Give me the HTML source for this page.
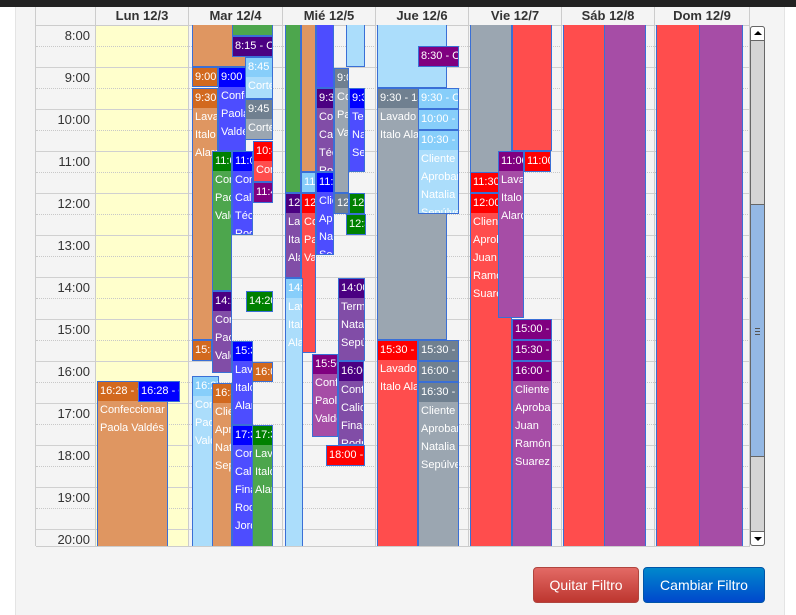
<!DOCTYPE html>
<html><head><meta charset="utf-8">
<style>
*{margin:0;padding:0;box-sizing:border-box}
html,body{width:796px;height:615px;overflow:hidden}
body{background:#fff;position:relative;font-family:"Liberation Sans",sans-serif}
.topbar{position:absolute;left:0;top:0;width:796px;height:7px;background:#222}
.panel{position:absolute;left:15px;top:7px;width:770px;height:608px;background:#f4f4f4;border-left:1px solid #e4e4e4;border-right:1px solid #e4e4e4}
.hdr{position:absolute;top:7px;height:19px;border-right:1px solid #ccc;border-bottom:1px solid #ccc;font-weight:bold;font-size:13px;color:#333;text-align:center;line-height:18px;background:#f4f4f4}
.vl{position:absolute;top:7px;width:1px;height:539px;background:#ccc}
.hl{position:absolute;left:36px;width:714px;height:1px;background:#d0d0d0}
.dl{position:absolute;left:36px;width:714px;height:0;border-top:1px dotted #c8c8c8}
.tl{position:absolute;left:36px;width:54px;text-align:right;font-size:13px;color:#333;line-height:16px}
.ev{position:absolute;left:0;top:0;width:796px;height:546px;overflow:hidden;clip-path:inset(25px 0 0 0)}
.e{position:absolute;border:1px solid #3a6fd6;overflow:hidden;color:#fff;font-size:11px;white-space:nowrap}
.h{height:19px;line-height:19px;padding-left:2px}
.b{line-height:18px;padding-left:2px}
.or{background:#df9661}.or .h{background:#d2691e}
.bl{background:#4d4dff}.bl .h{background:#0000ff}
.gr{background:#4da64d}.gr .h{background:#008000}
.in{background:#814da7}.in .h{background:#4b0082}
.lb{background:#abddfb}.lb .h{background:#87cefa}
.sg{background:#9ba6b1}.sg .h{background:#708090}
.rd{background:#ff4d4d}.rd .h{background:#ff0000}
.pu{background:#a64da6}.pu .h{background:#800080}
.btn{position:absolute;top:567px;height:36px;border-radius:4px;color:#fff;font-size:14px;text-align:center;line-height:34px}
</style></head><body>
<div class="topbar"></div>
<div class="panel"></div>
<div style="position:absolute;left:36px;top:7px;width:714px;height:540px;background:#f4f4f4;border-bottom:1px solid #ccc"></div>
<div style="position:absolute;left:96px;top:26px;width:92px;height:520px;background:#ffffcc"></div>
<div class="hl" style="top:25px"></div>
<div class="dl" style="top:46px"></div><div class="hl" style="top:67px"></div>
<div class="dl" style="top:88px"></div><div class="hl" style="top:109px"></div>
<div class="dl" style="top:130px"></div><div class="hl" style="top:151px"></div>
<div class="dl" style="top:172px"></div><div class="hl" style="top:193px"></div>
<div class="dl" style="top:214px"></div><div class="hl" style="top:235px"></div>
<div class="dl" style="top:256px"></div><div class="hl" style="top:277px"></div>
<div class="dl" style="top:298px"></div><div class="hl" style="top:319px"></div>
<div class="dl" style="top:340px"></div><div class="hl" style="top:361px"></div>
<div class="dl" style="top:382px"></div><div class="hl" style="top:403px"></div>
<div class="dl" style="top:424px"></div><div class="hl" style="top:445px"></div>
<div class="dl" style="top:466px"></div><div class="hl" style="top:487px"></div>
<div class="dl" style="top:508px"></div><div class="hl" style="top:529px"></div>
<div class="vl" style="left:35px"></div>
<div class="vl" style="left:95px"></div>
<div class="vl" style="left:188px"></div>
<div class="vl" style="left:282px"></div>
<div class="vl" style="left:375px"></div>
<div class="vl" style="left:468px"></div>
<div class="vl" style="left:561px"></div>
<div class="vl" style="left:654px"></div>
<div class="vl" style="left:749px"></div>
<div class="hdr" style="left:36px;width:60px"></div>
<div class="hdr" style="left:96px;width:93px">Lun 12/3</div>
<div class="hdr" style="left:189px;width:94px">Mar 12/4</div>
<div class="hdr" style="left:283px;width:93px">Mié 12/5</div>
<div class="hdr" style="left:376px;width:93px">Jue 12/6</div>
<div class="hdr" style="left:469px;width:93px">Vie 12/7</div>
<div class="hdr" style="left:562px;width:93px">Sáb 12/8</div>
<div class="hdr" style="left:655px;width:95px">Dom 12/9</div>
<div class="tl" style="top:28px">8:00</div>
<div class="tl" style="top:70px">9:00</div>
<div class="tl" style="top:112px">10:00</div>
<div class="tl" style="top:154px">11:00</div>
<div class="tl" style="top:196px">12:00</div>
<div class="tl" style="top:238px">13:00</div>
<div class="tl" style="top:280px">14:00</div>
<div class="tl" style="top:322px">15:00</div>
<div class="tl" style="top:364px">16:00</div>
<div class="tl" style="top:406px">17:00</div>
<div class="tl" style="top:448px">18:00</div>
<div class="tl" style="top:490px">19:00</div>
<div class="tl" style="top:532px">20:00</div>

<div class="ev">
<div class="e or" style="left:97px;top:381px;width:71px;height:175px"><div class="h">16:28 - 9:00</div><div class="b">Confeccionar</div><div class="b">Paola Valdés</div></div>
<div class="e bl" style="left:138px;top:381px;width:42px;height:21px"><div class="h">16:28 - Conf</div></div>
<div class="e or" style="left:192px;top:0;width:55px;height:67px"></div>
<div class="e gr" style="left:232px;top:0;width:41px;height:36px"></div>
<div class="e in" style="left:232px;top:36px;width:41px;height:21px"><div class="h">8:15 - C</div></div>
<div class="e lb" style="left:245px;top:57px;width:28px;height:42px"><div class="h">8:45 - 9:45</div><div class="b">Corte</div></div>
<div class="e or" style="left:192px;top:67px;width:26px;height:20px"><div class="h">9:00 - 9:30</div></div>
<div class="e bl" style="left:218px;top:67px;width:28px;height:84px"><div class="h">9:00</div><div class="b">Confeccionar</div><div class="b">Paola</div><div class="b">Valdés</div></div>
<div class="e or" style="left:192px;top:88px;width:26px;height:252px"><div class="h">9:30 -</div><div class="b">Lavado</div><div class="b">Italo</div><div class="b">Alarcón</div></div>
<div class="e sg" style="left:245px;top:99px;width:28px;height:41px"><div class="h">9:45 -</div><div class="b">Corte</div></div>
<div class="e rd" style="left:253px;top:141px;width:20px;height:41px"><div class="h">10:45</div><div class="b">Corte</div></div>
<div class="e gr" style="left:212px;top:151px;width:20px;height:140px"><div class="h">11:00</div><div class="b">Confeccionar</div><div class="b">Paola</div><div class="b">Valdés</div></div>
<div class="e bl" style="left:232px;top:151px;width:21px;height:84px"><div class="h">11:00</div><div class="b">Control</div><div class="b">Calidad</div><div class="b">Técnico</div><div class="b">Rodrigo</div></div>
<div class="e pu" style="left:253px;top:182px;width:20px;height:21px"><div class="h">11:45</div></div>
<div class="e in" style="left:212px;top:291px;width:20px;height:82px"><div class="h">14:20</div><div class="b">Confeccionar</div><div class="b">Paola</div><div class="b">Valdés</div></div>
<div class="e gr" style="left:246px;top:291px;width:27px;height:21px"><div class="h">14:20</div></div>
<div class="e or" style="left:192px;top:340px;width:20px;height:21px"><div class="h">15:30</div></div>
<div class="e bl" style="left:232px;top:341px;width:21px;height:84px"><div class="h">15:30</div><div class="b">Lavado</div><div class="b">Italo</div><div class="b">Alarcón</div></div>
<div class="e or" style="left:252px;top:362px;width:21px;height:20px"><div class="h">16:00</div></div>
<div class="e lb" style="left:192px;top:376px;width:27px;height:180px"><div class="h">16:27</div><div class="b">Confeccionar</div><div class="b">Paola</div><div class="b">Valdés</div></div>
<div class="e or" style="left:212px;top:383px;width:20px;height:173px"><div class="h">16:30</div><div class="b">Cliente</div><div class="b">Aprobar</div><div class="b">Natalia</div><div class="b">Sepúlveda</div></div>
<div class="e bl" style="left:232px;top:425px;width:21px;height:131px"><div class="h">17:30</div><div class="b">Control</div><div class="b">Calidad</div><div class="b">Final</div><div class="b">Rodrigo</div><div class="b">Jorquera</div></div>
<div class="e gr" style="left:252px;top:425px;width:21px;height:131px"><div class="h">17:30</div><div class="b">Lavado</div><div class="b">Italo</div><div class="b">Alarcón</div></div>
<div class="e gr" style="left:285px;top:0;width:16px;height:193px"></div>
<div class="e or" style="left:301px;top:0;width:15px;height:172px"></div>
<div class="e bl" style="left:316px;top:0;width:18px;height:88px"></div>
<div class="e lb" style="left:346px;top:0;width:19px;height:67px"></div>
<div class="e sg" style="left:334px;top:68px;width:15px;height:125px"><div class="h">9:00</div><div class="b">Corte</div><div class="b">Paola</div><div class="b">Valdés</div></div>
<div class="e in" style="left:316px;top:88px;width:18px;height:84px"><div class="h">9:30</div><div class="b">Control</div><div class="b">Calidad</div><div class="b">Técnico</div><div class="b">Rodrigo</div></div>
<div class="e bl" style="left:349px;top:88px;width:16px;height:84px"><div class="h">9:30</div><div class="b">Terminaciones</div><div class="b">Natalia</div><div class="b">Sepúlveda</div></div>
<div class="e lb" style="left:301px;top:172px;width:15px;height:21px"><div class="h">11:30</div></div>
<div class="e bl" style="left:316px;top:172px;width:18px;height:83px"><div class="h">11:30</div><div class="b">Cliente</div><div class="b">Aprobar</div><div class="b">Natalia</div><div class="b">Sepúlveda</div></div>
<div class="e sg" style="left:334px;top:193px;width:15px;height:21px"><div class="h">12:00</div></div>
<div class="e gr" style="left:349px;top:193px;width:16px;height:21px"><div class="h">12:00</div></div>
<div class="e gr" style="left:346px;top:214px;width:20px;height:21px"><div class="h">12:30</div></div>
<div class="e in" style="left:285px;top:193px;width:16px;height:85px"><div class="h">12:00</div><div class="b">Lavado</div><div class="b">Italo</div><div class="b">Alarcón</div></div>
<div class="e rd" style="left:301px;top:193px;width:15px;height:160px"><div class="h">12:00</div><div class="b">Confeccionar</div><div class="b">Paola</div><div class="b">Valdés</div></div>
<div class="e lb" style="left:285px;top:278px;width:18px;height:278px"><div class="h">14:00</div><div class="b">Lavado</div><div class="b">Italo</div><div class="b">Alarcón</div></div>
<div class="e in" style="left:338px;top:278px;width:27px;height:83px"><div class="h">14:00</div><div class="b">Terminaciones</div><div class="b">Natalia</div><div class="b">Sepúlveda</div></div>
<div class="e pu" style="left:312px;top:354px;width:26px;height:83px"><div class="h">15:50</div><div class="b">Confeccionar</div><div class="b">Paola</div><div class="b">Valdés</div></div>
<div class="e in" style="left:338px;top:361px;width:26px;height:84px"><div class="h">16:00</div><div class="b">Control</div><div class="b">Calidad</div><div class="b">Final</div><div class="b">Rodrigo</div></div>
<div class="e rd" style="left:326px;top:445px;width:39px;height:21px"><div class="h">18:00 - Corte</div></div>
<div class="e lb" style="left:377px;top:0;width:70px;height:88px"></div>
<div class="e pu" style="left:418px;top:46px;width:41px;height:21px"><div class="h">8:30 - Corte</div></div>
<div class="e sg" style="left:377px;top:88px;width:70px;height:252px"><div class="h">9:30 - 15:30</div><div class="b">Lavado</div><div class="b">Italo Alarcón</div></div>
<div class="e lb" style="left:418px;top:88px;width:41px;height:21px"><div class="h">9:30 - Corte</div></div>
<div class="e lb" style="left:418px;top:109px;width:41px;height:21px"><div class="h">10:00 - 10:30</div></div>
<div class="e lb" style="left:418px;top:130px;width:41px;height:84px"><div class="h">10:30 - 11:30</div><div class="b">Cliente</div><div class="b">Aprobar</div><div class="b">Natalia</div><div class="b">Sepúlveda</div></div>
<div class="e rd" style="left:377px;top:340px;width:41px;height:216px"><div class="h">15:30 - 17:00</div><div class="b">Lavado</div><div class="b">Italo Alarcón</div></div>
<div class="e sg" style="left:418px;top:340px;width:41px;height:21px"><div class="h">15:30 - Corte</div></div>
<div class="e sg" style="left:418px;top:361px;width:41px;height:21px"><div class="h">16:00 - 16:30</div></div>
<div class="e sg" style="left:418px;top:382px;width:41px;height:174px"><div class="h">16:30 - 17:30</div><div class="b">Cliente</div><div class="b">Aprobar</div><div class="b">Natalia</div><div class="b">Sepúlveda</div></div>
<div class="e sg" style="left:470px;top:0;width:42px;height:173px"></div>
<div class="e rd" style="left:512px;top:0;width:40px;height:151px"></div>
<div class="e rd" style="left:470px;top:172px;width:29px;height:21px"><div class="h">11:30</div></div>
<div class="e rd" style="left:470px;top:193px;width:42px;height:363px"><div class="h">12:00 -</div><div class="b">Cliente</div><div class="b">Aprobar</div><div class="b">Juan</div><div class="b">Ramón</div><div class="b">Suarez</div></div>
<div class="e pu" style="left:498px;top:151px;width:26px;height:167px"><div class="h">11:00</div><div class="b">Lavado</div><div class="b">Italo</div><div class="b">Alarcón</div></div>
<div class="e rd" style="left:524px;top:151px;width:27px;height:21px"><div class="h">11:00</div></div>
<div class="e pu" style="left:512px;top:319px;width:40px;height:21px"><div class="h">15:00 - Corte</div></div>
<div class="e pu" style="left:512px;top:340px;width:40px;height:21px"><div class="h">15:30 - 16:00</div></div>
<div class="e pu" style="left:512px;top:361px;width:40px;height:195px"><div class="h">16:00 - 17:00</div><div class="b">Cliente</div><div class="b">Aprobar</div><div class="b">Juan</div><div class="b">Ramón</div><div class="b">Suarez</div></div>
<div class="e rd" style="left:563px;top:0;width:42px;height:556px"></div>
<div class="e pu" style="left:604px;top:0;width:42px;height:556px"></div>
<div class="e rd" style="left:656px;top:0;width:44px;height:556px"></div>
<div class="e pu" style="left:699px;top:0;width:44px;height:556px"></div>
</div>

<div style="position:absolute;left:750px;top:26px;width:15px;height:520px;background:#d4d4d4;border:1px solid #666;border-radius:3px"></div>
<div style="position:absolute;left:750px;top:26px;width:15px;height:15px;background:#fff;border:1px solid #666;border-radius:3px 3px 0 0"></div>
<div style="position:absolute;left:754px;top:31px;width:0;height:0;border-left:4px solid transparent;border-right:4px solid transparent;border-bottom:4px solid #000"></div>
<div style="position:absolute;left:750px;top:204px;width:15px;height:253px;background:#94b8e4;border:1px solid #666"></div>
<div style="position:absolute;left:755px;top:328px;width:5px;height:1px;background:#555"></div>
<div style="position:absolute;left:755px;top:331px;width:5px;height:1px;background:#555"></div>
<div style="position:absolute;left:755px;top:334px;width:5px;height:1px;background:#555"></div>
<div style="position:absolute;left:750px;top:531px;width:15px;height:15px;background:#fff;border:1px solid #666;border-radius:0 0 3px 3px"></div>
<div style="position:absolute;left:754px;top:537px;width:0;height:0;border-left:4px solid transparent;border-right:4px solid transparent;border-top:4px solid #000"></div>

<div class="btn" style="left:533px;width:106px;background:linear-gradient(#e36a65,#bd362f);border:1px solid #b0453e">Quitar Filtro</div>
<div class="btn" style="left:643px;width:122px;background:linear-gradient(#0088cc,#0048cc);border:1px solid #0055a8">Cambiar Filtro</div>
</body></html>
